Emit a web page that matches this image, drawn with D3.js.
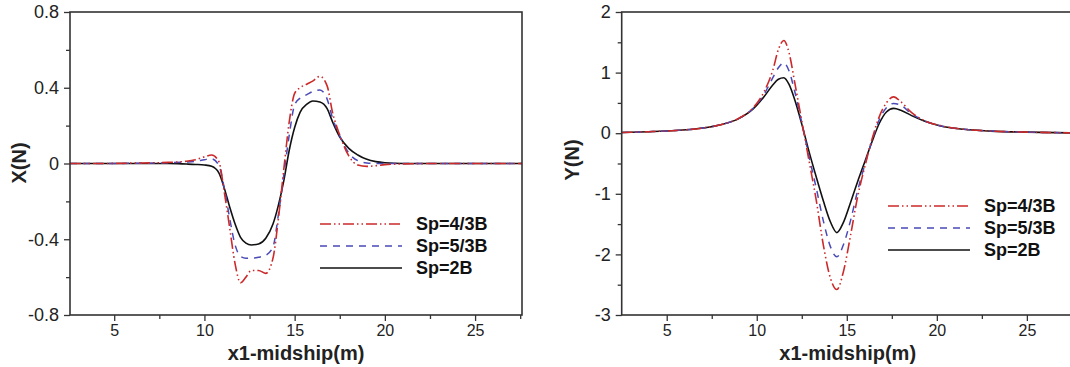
<!DOCTYPE html>
<html>
<head>
<meta charset="utf-8">
<script src="https://cdn.jsdelivr.net/npm/d3@7"></script>
<style>
  body { margin: 0; background: #fff; }
  svg { display: block; font-family: 'Liberation Sans', Arial, sans-serif; }
</style>
</head>
<body>
<div id="chart"></div>
<script>
// Series names shown in the legends
var seriesNames = ['Sp=4/3B', 'Sp=5/3B', 'Sp=2B'];

// Shared x ticks (m)
var xMajor = [5, 10, 15, 20, 25];
var xMinor = [7.5, 12.5, 17.5, 22.5, 27.5];

// Left panel: X(N)
var xLeft = [2.55, 4, 6, 8, 9, 9.5, 10, 10.4, 10.8, 11.1, 11.4, 11.7, 12.0, 12.3, 12.6, 13.0,
  13.4, 13.8, 14.1, 14.4, 14.7, 15.0, 15.3, 15.7, 16.0, 16.4, 16.8, 17.1, 17.5, 18.0, 18.5,
  19.0, 19.5, 20.0, 21, 23, 25, 27.6];
var fxRed = [0, 0, 0.002, 0.006, 0.012, 0.02, 0.035, 0.045, 0.01, -0.15, -0.34, -0.53, -0.63,
  -0.6, -0.565, -0.565, -0.58, -0.5, -0.29, -0.03, 0.22, 0.37, 0.4, 0.42, 0.435, 0.46, 0.41,
  0.27, 0.15, 0.04, -0.008, -0.015, -0.012, -0.006, -0.002, 0, 0, 0];
var fxBlue = [0, 0, 0.001, 0.004, 0.008, 0.012, 0.02, 0.025, -0.01, -0.13, -0.29, -0.43, -0.49,
  -0.5, -0.5, -0.495, -0.485, -0.44, -0.27, -0.06, 0.15, 0.31, 0.345, 0.365, 0.38, 0.388, 0.34,
  0.24, 0.145, 0.055, 0.015, 0.003, 0, 0, 0, 0, 0, 0];
var fxBlack = [0, 0, 0, 0, -0.003, -0.005, -0.008, -0.015, -0.05, -0.13, -0.23, -0.32, -0.39,
  -0.42, -0.43, -0.425, -0.395, -0.32, -0.22, -0.09, 0.07, 0.19, 0.27, 0.315, 0.33, 0.325, 0.29,
  0.22, 0.14, 0.08, 0.045, 0.022, 0.01, 0.004, 0, 0, 0, 0];
var leftYMajor = [-0.8, -0.4, 0, 0.4, 0.8];
var leftYMinor = [-0.6, -0.2, 0.2, 0.6];

// Right panel: Y(N)
var xRight = [2.5, 4, 5.5, 7, 8, 9, 9.8, 10.4, 10.9, 11.2, 11.5, 11.8, 12.1, 12.5, 12.9, 13.3,
  13.7, 14.1, 14.45, 14.8, 15.2, 15.6, 16.0, 16.4, 16.8, 17.2, 17.6, 18.0, 18.6, 19.3, 20.2,
  21.5, 23, 25, 27.6];
var fyRed = [0.012, 0.025, 0.045, 0.085, 0.14, 0.245, 0.42, 0.68, 1.05, 1.38, 1.53, 1.32, 0.85,
  0.2, -0.45, -1.1, -1.85, -2.4, -2.58, -2.3, -1.7, -1.05, -0.55, -0.1, 0.27, 0.5, 0.6, 0.52,
  0.34, 0.21, 0.125, 0.065, 0.035, 0.018, 0.005];
var fyBlue = [0.012, 0.025, 0.045, 0.085, 0.14, 0.243, 0.41, 0.64, 0.92, 1.08, 1.16, 1.02, 0.7,
  0.17, -0.38, -0.9, -1.45, -1.88, -2.04, -1.85, -1.45, -0.95, -0.52, -0.12, 0.22, 0.42, 0.49,
  0.46, 0.32, 0.205, 0.122, 0.065, 0.035, 0.018, 0.005];
var fyBlack = [0.012, 0.025, 0.045, 0.085, 0.14, 0.24, 0.4, 0.6, 0.8, 0.89, 0.915, 0.8, 0.56,
  0.15, -0.3, -0.72, -1.12, -1.47, -1.64, -1.48, -1.15, -0.8, -0.47, -0.14, 0.16, 0.35, 0.41,
  0.38, 0.29, 0.2, 0.12, 0.065, 0.035, 0.018, 0.005];
var rightYMajor = [-3, -2, -1, 0, 1, 2];
var rightYMinor = [-2.5, -1.5, -0.5, 0.5, 1.5];

var styles = [
  { color: '#cc2a2a', dash: '11,3,1.5,3,1.5,3', width: 1.6 },
  { color: '#4a4ab8', dash: '7,6', width: 1.5 },
  { color: '#111111', dash: null, width: 1.6 }
];

var svg = d3
  .select('#chart')
  .append('svg')
  .attr('width', 1070)
  .attr('height', 367);

function drawPanel(p) {
  var g = svg.append('g').attr('transform', 'translate(' + p.left + ',' + p.top + ')');

  var x = d3.scaleLinear().domain(p.xDomain).range([0, p.width]);
  var y = d3.scaleLinear().domain(p.yDomain).range([p.height, 0]);

  g.append('clipPath')
    .attr('id', p.id + '-clip')
    .append('rect')
    .attr('width', p.width)
    .attr('height', p.height);

  // minor ticks
  g.append('g')
    .attr('class', 'axis')
    .attr('transform', 'translate(0,' + p.height + ')')
    .call(d3.axisBottom(x).tickValues(xMinor).tickSize(4).tickFormat(''));
  g.append('g')
    .attr('class', 'axis')
    .call(d3.axisLeft(y).tickValues(p.yMinor).tickSize(4).tickFormat(''));

  // major ticks
  g.append('g')
    .attr('class', 'axis')
    .attr('transform', 'translate(0,' + p.height + ')')
    .call(d3.axisBottom(x).tickValues(xMajor).tickSize(6).tickPadding(4).tickFormat(String))
    .selectAll('text')
    .style('font-size', '16px');
  g.append('g')
    .attr('class', 'axis')
    .call(d3.axisLeft(y).tickValues(p.yMajor).tickSize(6).tickPadding(5).tickFormat(String))
    .selectAll('text')
    .style('font-size', '18px');

  g.selectAll('.axis path').remove();
  g.selectAll('.axis line').attr('stroke', '#333').attr('stroke-width', 1.3);
  g.selectAll('.axis text').attr('fill', '#222');

  // lines
  var line = d3
    .line()
    .x(function (d) {
      return x(d[0]);
    })
    .y(function (d) {
      return y(d[1]);
    })
    .curve(d3.curveMonotoneX);

  var plot = g.append('g').attr('clip-path', 'url(#' + p.id + '-clip)');
  // draw black first, red on top
  [2, 1, 0].forEach(function (i) {
    var pts = p.xs.map(function (v, j) {
      return [v, p.series[i][j]];
    });
    plot
      .append('path')
      .datum(pts)
      .attr('fill', 'none')
      .attr('stroke', styles[i].color)
      .attr('stroke-width', styles[i].width)
      .attr('stroke-dasharray', styles[i].dash)
      .attr('d', line);
  });

  // frame
  g.append('rect')
    .attr('width', p.width)
    .attr('height', p.height)
    .attr('fill', 'none')
    .attr('stroke', '#333')
    .attr('stroke-width', 1.6);

  // axis titles
  g.append('text')
    .attr('x', p.width / 2)
    .attr('y', p.height + 45)
    .attr('text-anchor', 'middle')
    .style('font-size', '20px')
    .style('font-weight', 'bold')
    .attr('fill', '#222')
    .text('x1-midship(m)');

  g.append('text')
    .attr('transform', 'translate(' + p.yTitleX + ',' + p.yTitleY + ') rotate(-90)')
    .attr('text-anchor', 'middle')
    .attr('dominant-baseline', 'central')
    .style('font-size', '20px')
    .style('font-weight', 'bold')
    .attr('fill', '#222')
    .text(p.yTitle);

  // legend
  var leg = svg.append('g').attr('transform', 'translate(' + p.legX + ',' + p.legY + ')');
  seriesNames.forEach(function (name, i) {
    var row = leg.append('g').attr('transform', 'translate(0,' + i * 22 + ')');
    row
      .append('line')
      .attr('x1', 0)
      .attr('x2', 82)
      .attr('stroke', styles[i].color)
      .attr('stroke-width', styles[i].width)
      .attr('stroke-dasharray', styles[i].dash);
    row
      .append('text')
      .attr('x', 96)
      .attr('dominant-baseline', 'central')
      .style('font-size', '18px')
      .style('font-weight', 'bold')
      .attr('fill', '#111')
      .text(name);
  });
}

drawPanel({
  id: 'left',
  left: 70,
  top: 12,
  width: 452,
  height: 303,
  xDomain: [2.55, 27.6],
  yDomain: [-0.8, 0.8],
  yMajor: leftYMajor,
  yMinor: leftYMinor,
  xs: xLeft,
  series: [fxRed, fxBlue, fxBlack],
  yTitle: 'X(N)',
  yTitleX: -51,
  yTitleY: 151,
  legX: 320,
  legY: 224
});

drawPanel({
  id: 'right',
  left: 621.7,
  top: 12,
  width: 452,
  height: 303,
  xDomain: [2.5, 27.6],
  yDomain: [-3, 2],
  yMajor: rightYMajor,
  yMinor: rightYMinor,
  xs: xRight,
  series: [fyRed, fyBlue, fyBlack],
  yTitle: 'Y(N)',
  yTitleX: -50,
  yTitleY: 148,
  legX: 888,
  legY: 206
});
</script>
</body>
</html>
